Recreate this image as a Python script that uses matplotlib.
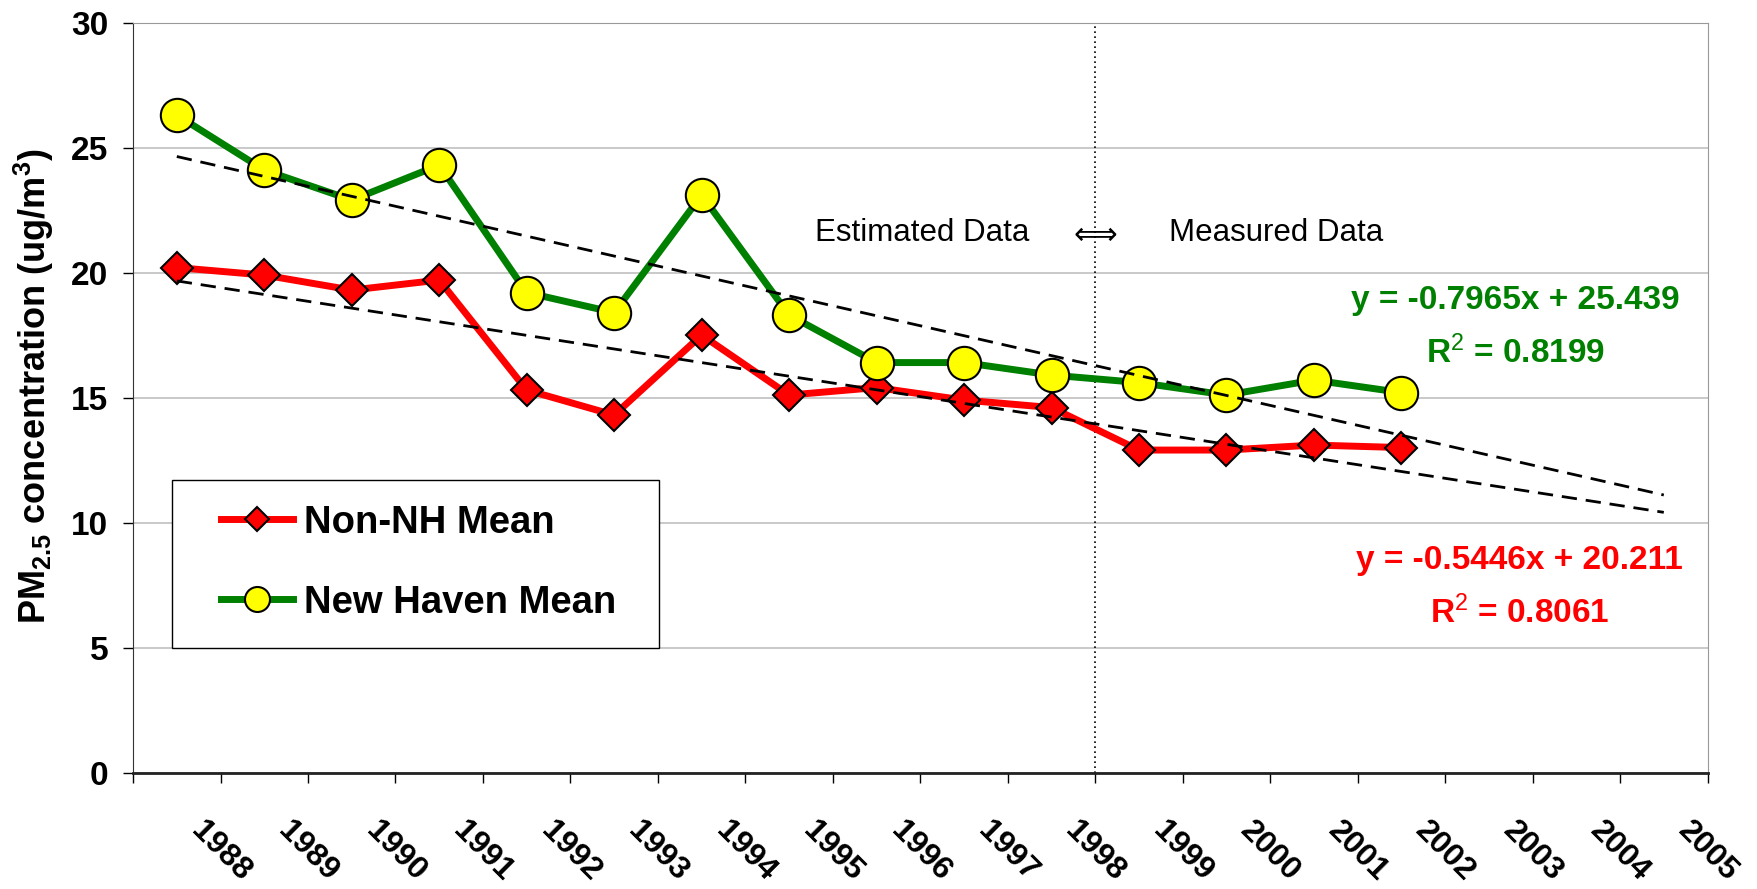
import matplotlib
matplotlib.use("Agg")
import matplotlib.pyplot as plt
import numpy as np
from matplotlib.patches import Rectangle

plt.rcParams['font.family'] = ['Liberation Sans', 'DejaVu Sans']
plt.rcParams['mathtext.fontset'] = 'custom'
plt.rcParams['mathtext.rm'] = 'Liberation Sans'
plt.rcParams['mathtext.bf'] = 'Liberation Sans:bold'
plt.rcParams['mathtext.it'] = 'Liberation Sans:italic'

# data
years = [str(y) for y in range(1988, 2006)]
non_nh = [20.2, 19.9, 19.3, 19.7, 15.3, 14.3, 17.5, 15.1, 15.4, 14.9, 14.6,
          12.9, 12.9, 13.1, 13.0]
new_haven = [26.3, 24.1, 22.9, 24.3, 19.2, 18.4, 23.1, 18.3, 16.4, 16.4, 15.9,
             15.6, 15.1, 15.7, 15.2]

# trendline equations shown on the chart (x = 1, 2, ... per year)
nh_slope, nh_icpt, nh_r2 = -0.7965, 25.439, 0.8199
non_slope, non_icpt, non_r2 = -0.5446, 20.211, 0.8061

fig = plt.figure(figsize=(17.58, 8.89), dpi=100)
ax = fig.add_axes([0.0757, 0.131, 0.8956, 0.8436])

x_all = np.arange(len(years))
x_data = np.arange(len(non_nh))

red_line, = ax.plot(x_data, non_nh, color='#FF0000', lw=5, marker='D',
                    markersize=16, markerfacecolor='#FF0000',
                    markeredgecolor='black', markeredgewidth=1.5, zorder=4,
                    label='Non-NH Mean')
green_line, = ax.plot(x_data, new_haven, color='#008000', lw=5, marker='o',
                      markersize=24, markerfacecolor='#FFFF00',
                      markeredgecolor='black', markeredgewidth=1.5, zorder=4,
                      label='New Haven Mean')

# linear trendlines, forecast to 2005
ax.plot(x_all, nh_slope * (x_all + 1) + nh_icpt, color='black', lw=2,
        linestyle=(0, (5.5, 3.2)), zorder=6)
ax.plot(x_all, non_slope * (x_all + 1) + non_icpt, color='black', lw=2,
        linestyle=(0, (5.5, 3.2)), zorder=6)

# split between estimated and measured data
ax.axvline(10.5, color='black', lw=1.2, linestyle=(0, (1, 2)), zorder=2)
ax.text(9.75, 21.6, 'Estimated Data', fontsize=22.5, ha='right', va='center')
ax.text(10.5, 21.5, '\u27fa', fontsize=22, ha='center', va='center',
        family=['DejaVu Sans'])
ax.text(11.34, 21.6, 'Measured Data', fontsize=22.5, ha='left', va='center')

# equations
ax.text(15.3, 18.9, f'y = {nh_slope}x + {nh_icpt}', color='#008000',
        fontsize=24, fontweight='bold', ha='center', va='center')
ax.text(15.3, 16.8, f'R$^2$ = {nh_r2}', color='#008000',
        fontsize=24, fontweight='bold', ha='center', va='center')
ax.text(15.35, 8.5, f'y = {non_slope}x + {non_icpt}', color='#FF0000',
        fontsize=24, fontweight='bold', ha='center', va='center')
ax.text(15.35, 6.4, f'R$^2$ = {non_r2}', color='#FF0000',
        fontsize=24, fontweight='bold', ha='center', va='center')

# axes styling
ax.set_xlim(-0.5, len(years) - 0.5)
ax.set_ylim(0, 30)
ax.set_yticks(range(0, 31, 5))
ax.tick_params(axis='y', direction='out', length=7, width=1, pad=11,
               labelsize=24)
for lab in ax.get_yticklabels():
    lab.set_fontweight('bold')
ax.set_xticks(np.arange(-0.5, len(years), 1.0))
ax.set_xticklabels([])
ax.tick_params(axis='x', direction='out', length=7, width=1)
for i, yr in enumerate(years):
    ax.text(i + 0.5, -0.105, yr, transform=ax.get_xaxis_transform(),
            rotation=-45, ha='center', va='center', fontsize=23,
            fontweight='bold')

ax.grid(axis='y', color='#C0C0C0', lw=1.2, zorder=0)
ax.set_axisbelow(True)
ax.spines['top'].set_color('#999999')
ax.spines['right'].set_color('#999999')
ax.spines['left'].set_color('#333333')
ax.spines['bottom'].set_color('#222222')
ax.spines['bottom'].set_linewidth(2)

ax.set_ylabel(r'PM$_{\mathregular{2.5}}$ concentration (ug/m$^{\mathregular{3}}$)',
              fontsize=26, fontweight='bold')
ax.yaxis.set_label_coords(-0.049, 0.515)

# legend box
ax.add_patch(Rectangle((0.025, 0.166), 0.309, 0.224, transform=ax.transAxes,
                       facecolor='white', edgecolor='black', lw=1, zorder=5))
leg = ax.legend(handles=[red_line, green_line], loc='upper left',
                bbox_to_anchor=(0.056, 0.357), frameon=False,
                prop={'size': 27.5, 'weight': 'bold'}, handlelength=1.87,
                handletextpad=0.3, labelspacing=1.15, borderpad=0,
                borderaxespad=0, markerscale=0.75)
leg.set_zorder(7)

fig.savefig('out.png', dpi=100)
